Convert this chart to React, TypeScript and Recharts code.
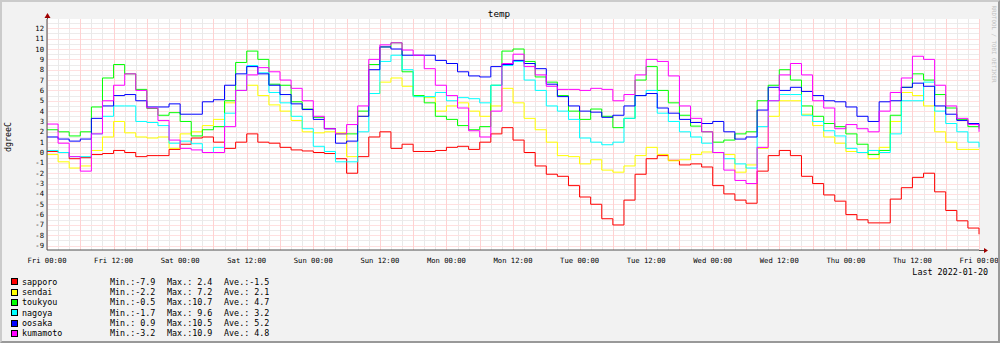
import React from 'react';
import { LineChart, Line, XAxis, YAxis } from 'recharts';

// one value every 2 hours, from Fri 00:00 (h=0) to next Fri 00:00 (h=168)
const sapporo = [
  0.1, 0.0, -0.6, -0.5, -0.2, -0.1, 0.2, 0.0, -0.4, -0.3, -0.3, 0.3,
  0.8, 1.4, 1.5, 1.0, 0.4, 1.0, 1.8, 1.0, 0.9, 0.5, 0.25, 0.15,
  0.0, -0.1, -0.6, -2.0, -0.4, 1.5, 2.0, 0.4, 0.8, 0.1, 0.1, 0.2,
  0.5, 0.6, 0.3, 1.0, 1.8, 2.4, 1.2, 0.0, -1.3, -2.1, -2.3, -3.2,
  -4.3, -5.0, -6.4, -7.0, -4.6, -2.1, -0.6, -0.3, -0.75, -1.2, -1.1, -1.4,
  -3.2, -4.0, -4.6, -4.9, -1.8, -0.3, 0.2, -0.3, -2.3, -3.0, -4.1, -4.7,
  -6.0, -6.5, -6.8, -6.8, -4.5, -3.4, -2.4, -2.0, -3.8, -5.6, -6.6, -7.3, -7.9,
];
const sendai = [
  -0.2, -0.9, -1.5, -1.3, 0.2, 1.5, 3.0, 1.9, 1.5, 1.4, 1.5, 0.4,
  1.8, 2.0, 2.6, 3.2, 4.8, 6.0, 6.5, 5.5, 4.6, 4.0, 3.1, 2.0,
  1.9, 2.0, 1.9, -0.4, 3.5, 5.7, 6.8, 7.2, 6.4, 5.4, 5.3, 4.0,
  4.5, 4.8, 4.0, 3.5, 4.5, 6.2, 4.8, 3.3, 2.2, 1.0, -0.3, -0.4,
  -1.1, -0.7, -1.7, -1.9, -1.3, -0.3, 0.5, -0.2, -0.8, -0.7, -0.2, 0.05,
  0.0, -0.2, -1.9, -1.2, 0.4, 3.5, 5.0, 5.0, 3.7, 2.6, 1.5, 0.9,
  0.1, 0.0, -0.6, 0.5, 3.0, 5.8, 5.5, 4.5, 2.0, 1.0, 0.3, 0.3, 0.3,
];
const toukyou = [
  2.2, 2.0, 1.6, 2.0, 4.4, 7.2, 8.5, 7.6, 6.1, 4.25, 3.6, 3.85,
  3.0, 1.6, 2.2, 2.5, 5.0, 8.7, 9.8, 9.0, 6.6, 6.5, 4.9, 4.2,
  3.4, 2.3, 1.8, 1.8, 4.0, 8.5, 10.2, 10.6, 7.8, 5.5, 4.8, 3.5,
  3.2, 2.6, 2.2, 2.5, 6.5, 9.8, 10.0, 8.8, 7.3, 6.8, 5.5, 4.0,
  3.2, 4.2, 3.5, 2.4, 3.3, 7.0, 8.3, 6.0, 4.8, 3.6, 2.55, 2.0,
  1.0, 1.2, 1.8, 2.0, 5.0, 6.5, 8.0, 7.0, 4.5, 3.5, 2.8, 2.5,
  1.8, 0.8, -0.2, 0.2, 3.6, 6.3, 7.6, 7.0, 5.6, 4.3, 3.2, 2.5, 2.3,
];
const nagoya = [
  0.2, 0.0, -0.4, -0.4, 1.8, 3.5, 4.5, 4.5, 3.0, 2.9, 2.6, 0.9,
  1.1, 0.85, 0.0, 0.5, 3.8, 6.0, 8.4, 7.7, 5.8, 4.8, 3.5, 2.3,
  0.6, 0.1, -0.9, -0.9, 2.0, 5.7, 8.8, 9.4, 8.0, 5.4, 5.4, 5.8,
  5.0, 5.3, 5.2, 4.8, 6.5, 8.4, 8.8, 7.0, 6.0, 4.5, 4.0, 3.2,
  1.4, 1.0, 0.75, 1.0, 3.3, 5.5, 6.0, 3.8, 3.0, 2.0, 1.5, 0.9,
  0.0, -0.6, -1.1, -1.5, 2.5, 5.0, 5.6, 5.6, 3.6, 3.0, 2.1, 1.6,
  0.4, 0.0, 0.2, 0.0, 1.8, 5.0, 5.0, 6.8, 4.0, 2.8, 2.0, 1.0, 0.5,
];
const oosaka = [
  1.5, 1.3, 1.1, 1.3, 3.3, 4.5, 5.5, 5.6, 5.0, 4.4, 4.4, 4.7,
  3.7, 3.7, 4.9, 5.1, 6.5, 7.6, 8.3, 7.6, 6.5, 5.6, 4.7, 4.15,
  3.2, 2.3, 0.9, 1.1, 3.5, 8.0, 10.2, 10.0, 9.4, 9.4, 9.4, 8.9,
  8.6, 7.8, 7.4, 7.3, 8.3, 8.5, 8.9, 8.6, 8.1, 6.6, 5.4, 4.5,
  4.0, 3.9, 3.4, 3.6, 4.5, 5.5, 5.7, 4.3, 3.8, 3.2, 2.9, 2.8,
  3.0, 2.0, 1.3, 1.5, 4.1, 6.3, 6.0, 6.3, 5.9, 5.5, 5.0, 4.9,
  4.4, 3.5, 3.0, 4.9, 5.0, 6.3, 6.7, 6.4, 4.5, 3.7, 3.1, 2.8, 2.5,
];
const kumamoto = [
  2.75, 0.9, -0.4, -1.8, 1.8, 5.0, 6.5, 7.6, 6.0, 4.3, 3.1, 1.2,
  0.4, 0.25, 0.0, 0.0, 2.5, 6.0, 7.5, 8.2, 7.8, 7.0, 6.2, 5.0,
  3.5, 2.3, 1.8, 2.7, 4.5, 9.0, 10.4, 10.6, 9.9, 9.4, 8.1, 6.5,
  5.5, 4.3, 2.1, 1.5, 4.0, 8.6, 9.5, 8.3, 7.5, 6.4, 6.1, 6.1,
  6.0, 6.2, 6.1, 5.0, 5.6, 7.5, 9.0, 8.8, 7.4, 4.5, 3.3, 2.0,
  0.0, -1.7, -2.7, -3.0, 0.5, 5.0, 7.5, 8.6, 7.5, 5.0, 4.3, 2.3,
  2.7, 2.3, 2.0, 4.0, 5.8, 7.2, 9.3, 9.0, 6.5, 4.5, 3.3, 2.7, 2.0,
];

const seriesNames = ['sapporo', 'sendai', 'toukyou', 'nagoya', 'oosaka', 'kumamoto'];
const seriesColors = ['#FF0000', '#FFFF00', '#00FF00', '#00FFFF', '#0000FF', '#FF00FF'];
const seriesValues = [sapporo, sendai, toukyou, nagoya, oosaka, kumamoto];
const legendMin = ['-7.9', '-2.2', '-0.5', '-1.7', ' 0.9', '-3.2'];
const legendMax = [' 2.4', ' 7.2', '10.7', ' 9.6', '10.5', '10.9'];
const legendAve = ['-1.5', ' 2.1', ' 4.7', ' 3.2', ' 5.2', ' 4.8'];

const xTickLabels = [
  'Fri 00:00', 'Fri 12:00', 'Sat 00:00', 'Sat 12:00', 'Sun 00:00', 'Sun 12:00',
  'Mon 00:00', 'Mon 12:00', 'Tue 00:00', 'Tue 12:00', 'Wed 00:00', 'Wed 12:00',
  'Thu 00:00', 'Thu 12:00', 'Fri 00:00',
];
const yTickLabels = [12, 11, 10, 9, 8, 7, 6, 5, 4, 3, 2, 1, 0, -1, -2, -3, -4, -5, -6, -7, -8, -9];

const STEP = 2;
const data = sapporo.map((_, i) => {
  const row: Record<string, number> = { h: i * STEP };
  seriesNames.forEach((n, k) => {
    row[n] = seriesValues[k][i];
  });
  return row;
});

const xTicks = xTickLabels.map((_, i) => i * 12);

const W = 1000;
const H = 343;
const PL = 47;
const PR = 979;
const PT = 19;
const PB = 250;
const MONO = '"DejaVu Sans Mono", "Liberation Mono", monospace';

// grid positions in data units
const minorX = Array.from({ length: 85 }, (_, i) => i * 2);
const majorX = Array.from({ length: 29 }, (_, i) => i * 6);
const minorY = Array.from({ length: 44 }, (_, i) => -9 + i * 0.5);
const majorY = yTickLabels;
const Y_MIN = -9.42;
const Y_MAX = 12.9;

const XTick = (props: any) => {
  const { x, payload } = props;
  const idx = xTicks.indexOf(payload.value);
  return (
    <text x={x} y={260} textAnchor="middle" dominantBaseline="central" fontFamily={MONO} fontSize={7.2} fill="#000">
      {idx >= 0 ? xTickLabels[idx] : ''}
    </text>
  );
};

const YTick = (props: any) => {
  const { y, payload } = props;
  return (
    <text x={44} y={y} textAnchor="end" dominantBaseline="central" fontFamily={MONO} fontSize={7.2} fill="#000">
      {payload.value}
    </text>
  );
};

// background grid behind the chart, using the same linear mapping as the chart axes
const sx = (h: number) => PL + ((PR - PL) * h) / 168;
const sy = (v: number) => PT + ((PB - PT) * (Y_MAX - v)) / (Y_MAX - Y_MIN);

function GridLayer() {
  return (
    <svg width={W} height={H} style={{ position: 'absolute', left: -2, top: -2 }}>
      <rect x={PL} y={PT} width={PR - PL} height={PB - PT} fill="#FFFFFF" />
      {minorY.map((v) => (
        <line key={'my' + v} x1={PL} x2={PR} y1={Math.round(sy(v)) + 0.5} y2={Math.round(sy(v)) + 0.5} stroke="#EDEBEB" strokeWidth={1} />
      ))}
      {minorX.map((h) => (
        <line key={'mx' + h} x1={Math.round(sx(h)) + 0.5} x2={Math.round(sx(h)) + 0.5} y1={PT} y2={PB} stroke="#E9E9E9" strokeWidth={1} />
      ))}
      {majorY.map((v) => (
        <line key={'My' + v} x1={PL} x2={PR} y1={Math.round(sy(v)) + 0.5} y2={Math.round(sy(v)) + 0.5} stroke="#FFE0E0" strokeWidth={1} />
      ))}
      {majorX.map((h) => (
        <line key={'Mx' + h} x1={Math.round(sx(h)) + 0.5} x2={Math.round(sx(h)) + 0.5} y1={PT} y2={PB} stroke="#FFD2D2" strokeWidth={1} />
      ))}
    </svg>
  );
}

export default function App() {
  return (
    <div
      style={{
        position: 'absolute',
        left: 0,
        top: 0,
        width: W,
        height: H,
        boxSizing: 'border-box',
        background: '#F2F2F2',
        borderTop: '2px solid #CBCBCB',
        borderLeft: '2px solid #CBCBCB',
        borderBottom: '2px solid #999999',
        borderRight: '2px solid #999999',
        fontFamily: MONO,
        overflow: 'hidden',
      }}
    >
      <GridLayer />
      <div style={{ position: 'absolute', left: -2, top: -2 }}>
        <LineChart
          width={W}
          height={H}
          data={data}
          margin={{ top: PT, right: W - PR, bottom: 73, left: 0 }}
        >
          <XAxis
            dataKey="h"
            type="number"
            domain={[0, 168]}
            ticks={xTicks}
            interval={0}
            height={20}
            tick={<XTick />}
            tickLine={false}
            axisLine={{ stroke: '#505050' }}
          />
          <YAxis
            type="number"
            domain={[Y_MIN, Y_MAX]}
            allowDataOverflow
            ticks={yTickLabels}
            interval={0}
            width={PL}
            tick={<YTick />}
            tickLine={false}
            axisLine={{ stroke: '#505050' }}
          />
          {seriesNames.map((n, k) => (
            <Line
              key={n}
              dataKey={n}
              type="stepAfter"
              stroke={seriesColors[k]}
              strokeWidth={1}
              dot={false}
              activeDot={false}
              isAnimationActive={false}
            />
          ))}
        </LineChart>
      </div>

      <svg
        width={W}
        height={H}
        style={{ position: 'absolute', left: -2, top: -2, pointerEvents: 'none' }}
      >
        <line x1={PR} y1={PB + 0.5} x2={984} y2={PB + 0.5} stroke="#505050" strokeWidth={1} />
        <polygon points={`${984},${PB - 2} ${988},${PB + 0.5} ${984},${PB + 3}`} fill="#A00000" />
        <line x1={PL + 0.5} y1={PT} x2={PL + 0.5} y2={15} stroke="#505050" strokeWidth={1} />
        <polygon points={`${PL - 2.5},${18} ${PL + 0.5},${13} ${PL + 3.5},${18}`} fill="#A00000" />
      </svg>

      <div
        style={{
          position: 'absolute',
          left: 499 - 2,
          top: 14 - 2,
          transform: 'translate(-50%, -50%)',
          fontSize: 9.3,
          lineHeight: 1,
          whiteSpace: 'nowrap',
          color: '#000',
        }}
      >
        temp
      </div>

      <div
        style={{
          position: 'absolute',
          left: 8 - 2,
          top: 137 - 2,
          transform: 'translate(-50%, -50%) rotate(-90deg)',
          fontSize: 8.3,
          lineHeight: 1,
          whiteSpace: 'nowrap',
          color: '#000',
        }}
      >
        dgreeC
      </div>

      <div
        style={{
          position: 'absolute',
          left: 993 - 2,
          top: 44 - 2,
          transform: 'translate(-50%, -50%) rotate(90deg)',
          fontSize: 5.8,
          lineHeight: 1,
          whiteSpace: 'nowrap',
          color: '#C0C0C0',
        }}
      >
        RRDTOOL / TOBI OETIKER
      </div>

      <div
        style={{
          position: 'absolute',
          right: 1000 - 988 - 2,
          top: 271.5 - 2,
          transform: 'translateY(-50%)',
          fontSize: 8.4,
          lineHeight: 1,
          whiteSpace: 'pre',
          color: '#000',
        }}
      >
        Last 2022-01-20
      </div>

      {seriesNames.map((n, k) => {
        const cy = 281.7 + k * 10.33 - 2;
        const textStyle: React.CSSProperties = {
          position: 'absolute',
          top: cy,
          transform: 'translateY(-50%)',
          fontSize: 8.4,
          lineHeight: 1,
          whiteSpace: 'pre',
          color: '#000',
        };
        return (
          <React.Fragment key={n}>
            <div
              style={{
                position: 'absolute',
                left: 11 - 2,
                top: cy - 3.5,
                width: 5,
                height: 5,
                background: seriesColors[k],
                border: '1px solid #000',
              }}
            />
            <div style={{ ...textStyle, left: 22 - 2 }}>{n}</div>
            <div style={{ ...textStyle, left: 110 - 2 }}>{`Min.:${legendMin[k]}`}</div>
            <div style={{ ...textStyle, left: 167 - 2 }}>{`Max.:${legendMax[k]}`}</div>
            <div style={{ ...textStyle, left: 224 - 2 }}>{`Ave.:${legendAve[k]}`}</div>
          </React.Fragment>
        );
      })}
    </div>
  );
}
